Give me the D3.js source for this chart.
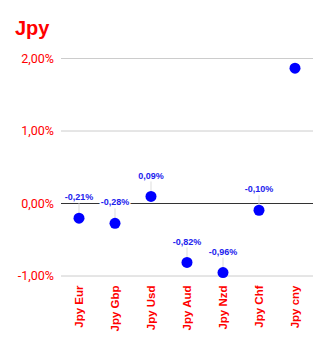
<!DOCTYPE html>
<html>
<head>
<meta charset="utf-8">
<script src="https://cdn.jsdelivr.net/npm/d3@7"></script>
<style>
  html, body { margin: 0; padding: 0; background: #fff; }
  svg { display: block; }
</style>
</head>
<body>
<svg id="chart" width="329" height="344"></svg>
<script>
// Daily change of the yen against other currencies (%)
const categories = ["Jpy Eur", "Jpy Gbp", "Jpy Usd", "Jpy Aud", "Jpy Nzd", "Jpy Chf", "Jpy cny"];
const values = [-0.21, -0.28, 0.09, -0.82, -0.96, -0.10, 1.86];
const labelled = [true, true, true, true, true, true, false];
const yTicks = [-1, 0, 1, 2];

const fmt = v => d3.format(".2f")(v).replace("−", "-").replace(".", ",") + "%";

const svg = d3.select("#chart");
const margin = { left: 61, right: 16, top: 58, bottom: 68 };
const width = 329, height = 344;

const x = d3.scaleBand()
  .domain(categories)
  .range([margin.left, width - margin.right])
  .padding(0);

const y = d3.scaleLinear()
  .domain([-1, 2])
  .range([275.5, 58]);

// Title
svg.append("text")
  .attr("x", 15).attr("y", 35)
  .attr("font-family", "Liberation Sans, Arial, sans-serif")
  .attr("font-size", 20).attr("font-weight", "bold")
  .attr("fill", "#ff0000")
  .text("Jpy");

// Gridlines and value axis
const yAxis = d3.axisLeft(y)
  .tickValues(yTicks)
  .tickSize(-(width - margin.right - margin.left))
  .tickPadding(7)
  .tickFormat(fmt);

const gy = svg.append("g")
  .attr("transform", `translate(${margin.left},0)`)
  .call(yAxis);
gy.select(".domain").remove();
gy.selectAll(".tick line")
  .attr("stroke", d => d === 0 ? "#333" : "#ccc")
  .attr("stroke-width", 1);
gy.selectAll(".tick text")
  .attr("font-family", "Roboto, Arial, sans-serif")
  .attr("font-size", 12.5)
  .attr("fill", "#ff0000");

// Category axis labels, rotated
const xAxis = d3.axisBottom(x).tickSize(0).tickPadding(0);
const gx = svg.append("g")
  .attr("transform", `translate(0,${y(-1)})`)
  .call(xAxis);
gx.select(".domain").remove();
gx.selectAll(".tick text")
  .attr("font-family", "Liberation Sans, Arial, sans-serif")
  .attr("font-size", 11.5)
  .attr("font-weight", "bold")
  .attr("fill", "#ff0000")
  .attr("transform", "rotate(-90)")
  .attr("text-anchor", "end")
  .attr("x", -10)
  .attr("y", 0)
  .attr("dy", "0.35em");

const data = categories.map((c, i) => ({ c, v: values[i], show: labelled[i] }));
const cx = d => x(d.c) + x.bandwidth() / 2;

// Leader lines
svg.append("g").selectAll("line")
  .data(data.filter(d => d.show))
  .join("line")
  .attr("x1", cx).attr("x2", cx)
  .attr("y1", d => y(d.v) - 15).attr("y2", d => y(d.v))
  .attr("stroke", "#ddd").attr("stroke-width", 1);

// Points
svg.append("g").selectAll("circle")
  .data(data)
  .join("circle")
  .attr("cx", cx)
  .attr("cy", d => y(d.v))
  .attr("r", 5.5)
  .attr("fill", "#0000ff");

// Value labels with a white halo
svg.append("g").selectAll("text")
  .data(data.filter(d => d.show))
  .join("text")
  .attr("x", cx)
  .attr("y", d => y(d.v) - 21)
  .attr("dy", "0.35em")
  .attr("text-anchor", "middle")
  .attr("font-family", "Liberation Sans, Arial, sans-serif")
  .attr("font-size", 9)
  .attr("font-weight", "bold")
  .attr("fill", "#2222ee")
  .attr("stroke", "#fff")
  .attr("stroke-width", 3)
  .attr("paint-order", "stroke")
  .text(d => fmt(d.v));
</script>
</body>
</html>
